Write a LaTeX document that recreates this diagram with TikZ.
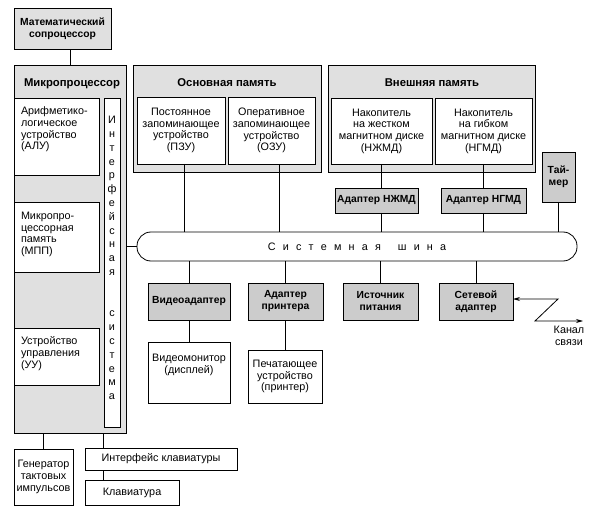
\documentclass[tikz,border=0pt]{standalone}
\usepackage{fontspec}
\setmainfont{Liberation Sans}
\usetikzlibrary{arrows.meta}
\begin{document}
\begin{tikzpicture}[x=1pt,y=-1pt,
  every node/.style={inner sep=0pt, outer sep=0pt},
  reg/.style={font=\fontsize{10.8}{11.7}\selectfont},
  bld/.style={font=\fontsize{10.3}{12}\selectfont\bfseries},
  ttl/.style={font=\fontsize{11.3}{13}\selectfont\bfseries},
  wbox/.style={draw, line width=0.8pt, fill=white, align=center, reg},
  obox/.style={draw, line width=0.8pt, fill=gray!24},
  gbox/.style={draw, line width=0.8pt, fill=gray!40, align=center, bld},
  conn/.style={line width=0.8pt},
  tip/.style={line width=0.8pt, {Stealth[length=7pt,width=4pt]}-{Stealth[length=7pt,width=4pt]}}
]
\useasboundingbox (0,0) rectangle (603,516);

% math coprocessor
\node[obox, minimum width=97pt, minimum height=41pt, align=center, bld] (cop) at (62.5,28.5)
  {Математический\\сопроцессор};

% microprocessor group
\node[obox, minimum width=112pt, minimum height=368pt] (mp) at (70,249) {};
\node[ttl] (mpt) at (72,84) {Микропроцессор};
\node[wbox, minimum width=85pt, minimum height=77pt] (alu) at (56.5,136.5) {};
\node[reg, anchor=west, align=left] (alut) at (21,129.5) {Арифметико-\\логическое\\устройство\\(АЛУ)};
\node[wbox, minimum width=85pt, minimum height=70pt] (mpp) at (56.5,237) {};
\node[reg, anchor=west, align=left] (mppt) at (21,234.5) {Микропро-\\цессорная\\память\\(МПП)};
\node[wbox, minimum width=85pt, minimum height=57pt] (uu) at (56.5,356.5) {};
\node[reg, anchor=west, align=left] (uut) at (21,353.5) {Устройство\\управления\\(УУ)};
\node[wbox, minimum width=16pt, minimum height=329pt] (strip) at (112,262.5) {};
\node[align=center, font=\fontsize{10.8}{13.8}\selectfont] (stript) at (112,258)
  {И\\н\\т\\е\\р\\ф\\е\\й\\с\\н\\а\\я\\\mbox{}\\\mbox{}\\с\\и\\с\\т\\е\\м\\а};

% generator and keyboard
\node[wbox, minimum width=59pt, minimum height=56pt] (gen) at (43.5,477) {Генератор\\тактовых\\импульсов};
\node[wbox, minimum width=152pt, minimum height=22pt] (kbi) at (161,459) {Интерфейс клавиатуры};
\node[wbox, minimum width=94pt, minimum height=25pt] (kb) at (132,492.5) {Клавиатура};

% main memory
\node[obox, minimum width=188pt, minimum height=107pt] (om) at (227,118.5) {};
\node[ttl] (omt) at (227,83) {Основная память};
\node[wbox, minimum width=88pt, minimum height=67pt] (pzu) at (181,130.5) {Постоянное\\запоминающее\\устройство\\(ПЗУ)};
\node[wbox, minimum width=87pt, minimum height=67pt] (ozu) at (271.5,130.5) {Оперативное\\запоминающее\\устройство\\(ОЗУ)};

% external memory
\node[obox, minimum width=207pt, minimum height=107pt] (vm) at (431.5,118.5) {};
\node[ttl] (vmt) at (432,83) {Внешняя память};
\node[wbox, minimum width=101pt, minimum height=66pt] (hdd) at (381.5,131) {Накопитель\\на жестком\\магнитном диске\\(НЖМД)};
\node[wbox, minimum width=97pt, minimum height=66pt] (fdd) at (483.5,131) {Накопитель\\на гибком\\магнитном диске\\(НГМД)};

% adapters and timer
\node[gbox, minimum width=83pt, minimum height=25pt] (ahdd) at (376.5,200.5) {Адаптер НЖМД};
\node[gbox, minimum width=85pt, minimum height=25pt] (afdd) at (483.5,200.5) {Адаптер НГМД};
\node[gbox, minimum width=33pt, minimum height=50pt] (timer) at (558.5,177) {Тай-\\мер};

% system bus
\node[draw, line width=0.8pt, fill=white, rounded corners=14pt, minimum width=440pt, minimum height=29pt,
  font=\fontsize{10.8}{12}\selectfont] (bus) at (357,246.5)
  {С\hspace{7.2pt}и\hspace{7.2pt}с\hspace{7.2pt}т\hspace{7.2pt}е\hspace{7.2pt}м\hspace{7.2pt}н\hspace{7.2pt}а\hspace{7.2pt}я\hspace{17pt}ш\hspace{7.2pt}и\hspace{7.2pt}н\hspace{7.2pt}а};

% lower row
\node[gbox, minimum width=82pt, minimum height=37pt] (video) at (189,301.5) {Видеоадаптер};
\node[gbox, minimum width=75pt, minimum height=37pt] (aprn) at (285.5,301.5) {Адаптер\\принтера};
\node[gbox, minimum width=75pt, minimum height=37pt] (pwr) at (380.5,301.5) {Источник\\питания};
\node[gbox, minimum width=74pt, minimum height=37pt] (net) at (476,301.5) {Сетевой\\адаптер};
\node[wbox, minimum width=82pt, minimum height=61pt] (mon) at (189,372.5) {Видеомонитор\\(дисплей)\\[6pt]};
\node[wbox, minimum width=74pt, minimum height=53pt] (prn) at (285,376.5) {Печатающее\\устройство\\(принтер)};

\node[reg, align=center] (chan) at (569,336) {Канал\\связи};

% connectors
\draw[conn] (mp.north) -- (mp.north |- cop.south);
\draw[conn] (bus.west) -- (bus.west -| mp.east);
\coordinate (pzuc) at ([xshift=3pt]pzu.south);
\coordinate (ozuc) at ([xshift=7.5pt]ozu.south);
\draw[conn] (pzuc) -- (pzuc |- bus.north);
\draw[conn] (ozuc) -- (ozuc |- bus.north);
\draw[conn] (hdd.south) -- (hdd.south |- ahdd.north);
\draw[conn] (hdd.south |- ahdd.south) -- (hdd.south |- bus.north);
\draw[conn] (fdd.south) -- (fdd.south |- afdd.north);
\draw[conn] (fdd.south |- afdd.south) -- (fdd.south |- bus.north);
\draw[conn] (timer.south) -- (timer.south |- bus.north);
\draw[conn] (video.north) -- (video.north |- bus.south);
\draw[conn] (aprn.north) -- (aprn.north |- bus.south);
\draw[conn] (pwr.north) -- (pwr.north |- bus.south);
\draw[conn] (net.north) -- (net.north |- bus.south);
\draw[conn] (video.south) -- (mon.north);
\draw[conn] (prn.north) -- (prn.north |- aprn.south);
\draw[conn] (gen.north) -- (gen.north |- mp.south);
\coordinate (kbx) at (103,433);
\draw[conn] (kbx) -- (kbx |- kbi.north);
\draw[conn] (kbx |- kbi.south) -- (kbx |- kb.north);

\coordinate (z1) at (558,299);
\coordinate (z2) at (535,321);
\coordinate (z3) at (583,321);
\draw[tip] (net.east |- z1) -- (z1) -- (z2) -- (z3);
\end{tikzpicture}
\end{document}
